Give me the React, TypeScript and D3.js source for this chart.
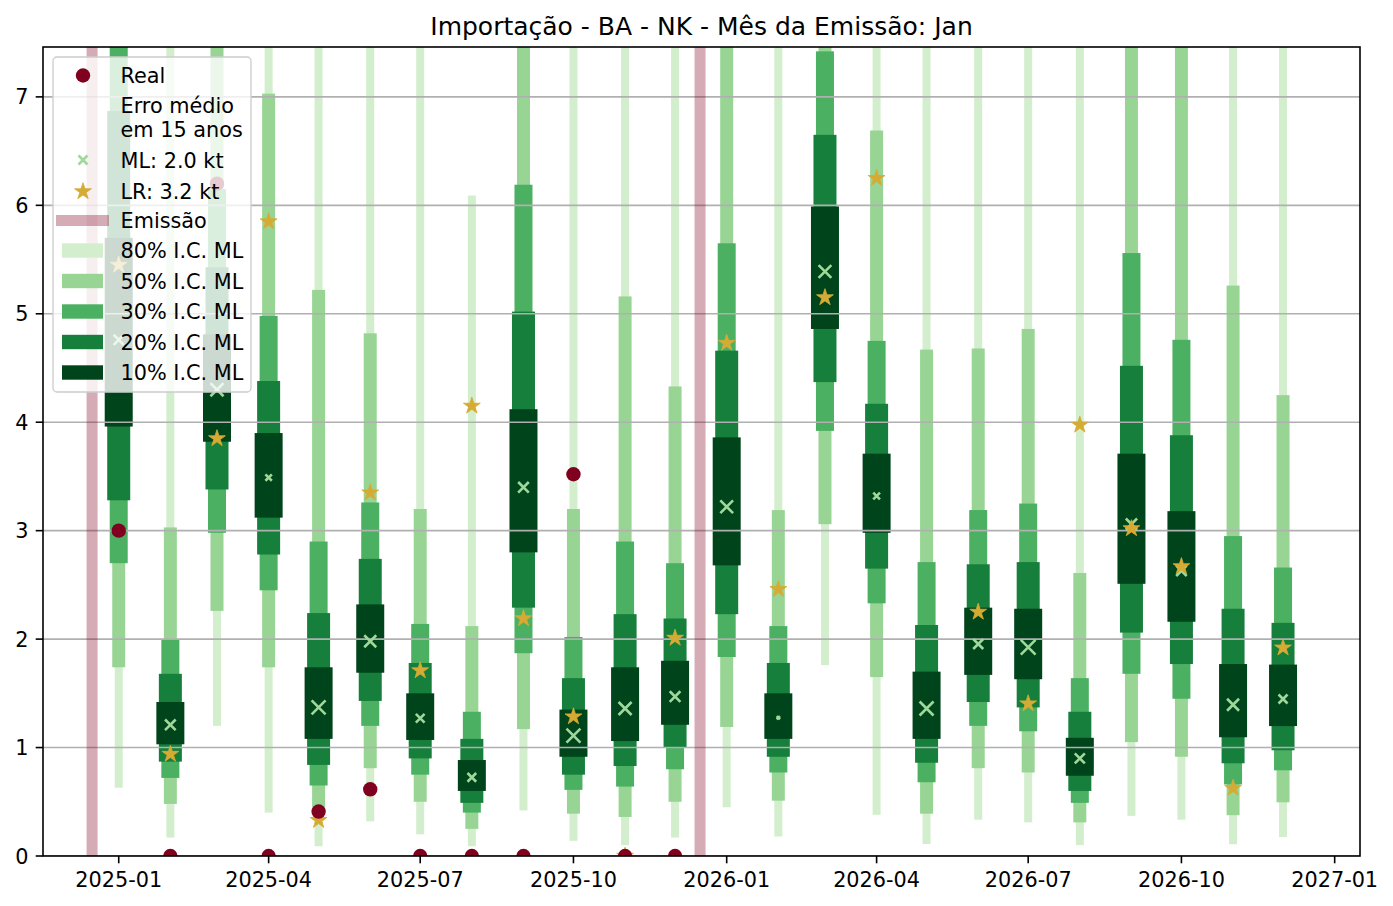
import React from "react";
import * as d3 from "d3";

// ---------- data ----------
const months = [
  "2025-01", "2025-02", "2025-03", "2025-04", "2025-05", "2025-06",
  "2025-07", "2025-08", "2025-09", "2025-10", "2025-11", "2025-12",
  "2026-01", "2026-02", "2026-03", "2026-04", "2026-05", "2026-06",
  "2026-07", "2026-08", "2026-09", "2026-10", "2026-11", "2026-12",
];

const ci80Low = [0.63, 0.17, 1.2, 0.4, 0.09, 0.32, 0.2, 0.09, 0.42, 0.14, 0.1, 0.17,
  0.45, 0.18, 1.76, 0.38, 0.11, 0.335, 0.31, 0.1, 0.37, 0.335, 0.108, 0.175];
const ci80High = [9.8, 8.0, 10.0, 9.0, 8.5, 8.5, 7.9, 6.09, 11.0, 8.0, 8.6, 7.8,
  11.0, 8.0, 13.0, 10.0, 8.5, 8.5, 8.6, 7.8, 11.0, 10.0, 8.5, 7.6];
const ci50Low = [1.74, 0.48, 2.26, 1.74, 0.42, 0.81, 0.5, 0.25, 1.17, 0.39, 0.36, 0.5,
  1.19, 0.51, 3.06, 1.65, 0.39, 0.81, 0.77, 0.31, 1.05, 0.915, 0.376, 0.495];
const ci50High = [9.0, 3.03, 8.5, 7.03, 5.22, 4.82, 3.2, 2.12, 9.0, 3.2, 5.16, 4.33,
  9.0, 3.19, 10.0, 6.69, 4.67, 4.68, 4.86, 2.61, 9.0, 8.0, 5.26, 4.25];
const ci30Low = [2.7, 0.72, 2.98, 2.45, 0.65, 1.2, 0.75, 0.4, 1.87, 0.61, 0.64, 0.8,
  1.835, 0.77, 3.92, 2.33, 0.68, 1.2, 1.15, 0.49, 1.68, 1.45, 0.66, 0.79];
const ci30High = [8.0, 2.0, 6.15, 4.98, 2.9, 3.26, 2.14, 1.33, 6.19, 2.02, 2.9, 2.7,
  5.65, 2.12, 7.42, 4.75, 2.71, 3.19, 3.25, 1.64, 5.56, 4.76, 2.95, 2.66];
const ci20Low = [3.28, 0.87, 3.38, 2.78, 0.84, 1.43, 0.9, 0.49, 2.29, 0.75, 0.83, 1.0,
  2.23, 0.915, 4.37, 2.65, 0.86, 1.42, 1.37, 0.6, 2.06, 1.77, 0.855, 0.975];
const ci20High = [6.87, 1.68, 5.43, 4.38, 2.24, 2.74, 1.78, 1.08, 5.02, 1.64, 2.23, 2.19,
  4.66, 1.78, 6.65, 4.17, 2.13, 2.69, 2.71, 1.33, 4.52, 3.88, 2.28, 2.15];
const ci10Low = [3.96, 1.03, 3.82, 3.12, 1.08, 1.69, 1.07, 0.6, 2.8, 0.915, 1.06, 1.21,
  2.68, 1.08, 4.86, 2.98, 1.08, 1.67, 1.63, 0.74, 2.51, 2.16, 1.095, 1.198];
const ci10High = [5.7, 1.42, 4.81, 3.9, 1.74, 2.32, 1.5, 0.885, 4.12, 1.35, 1.74, 1.8,
  3.86, 1.5, 5.99, 3.71, 1.7, 2.29, 2.28, 1.09, 3.71, 3.18, 1.77, 1.765];

const mlValues = [4.76, 1.21, 4.3, 3.49, 1.37, 1.98, 1.27, 0.725, 3.4, 1.11, 1.36, 1.47,
  3.22, 1.275, 5.39, 3.32, 1.36, 1.955, 1.925, 0.9, 3.06, 2.63, 1.395, 1.448];
// relative weight shown by the size of each ML marker
const mlWeight = [0.67, 0.71, 0.87, 0.43, 0.93, 0.8, 0.58, 0.58, 0.71, 0.93, 0.87, 0.71,
  0.85, 0.22, 0.85, 0.45, 0.93, 0.67, 0.98, 0.67, 0.75, 0.7, 0.8, 0.6];
const lrValues: (number | null)[] = [5.45, 0.94, 3.85, 5.85, 0.33, 3.35, 1.71, 4.15, 2.19, 1.285, 0.0, 2.01,
  4.73, 2.46, 5.15, 6.25, null, 2.25, 1.405, 3.975, 3.02, 2.67, 0.626, 1.92];

const realMonths = months.slice(0, 12);
const realValues = [3.0, 0, 6.2, 0, 0.41, 0.615, 0, 0, 0, 3.52, 0, 0];

const emissionDates = ["2024-12-16", "2025-12-16"];

const xTickDates = ["2025-01", "2025-04", "2025-07", "2025-10", "2026-01", "2026-04", "2026-07", "2026-10", "2027-01"];
const yTicks = [0, 1, 2, 3, 4, 5, 6, 7];

const title = "Importação - BA - NK - Mês da Emissão: Jan";
const legendLabels = {
  real: "Real",
  err1: "Erro médio",
  err2: "em 15 anos",
  ml: "ML: 2.0 kt",
  lr: "LR: 3.2 kt",
  em: "Emissão",
};

// ---------- styles ----------
const W = 1393;
const H = 906;
const L = 43, R = 1360, T = 47, B = 856;
const FONT = "DejaVu Sans, Verdana, sans-serif";
const FS = 20.8;
const REAL_COLOR = "#800020";
const STAR_COLOR = "#d6ab34";
const ML_COLOR = "#9fd89a";

const levels = [
  { label: "80% I.C. ML", lo: ci80Low, hi: ci80High, color: "#d3eecd", width: 8 },
  { label: "50% I.C. ML", lo: ci50Low, hi: ci50High, color: "#98d594", width: 13 },
  { label: "30% I.C. ML", lo: ci30Low, hi: ci30High, color: "#4bb062", width: 18 },
  { label: "20% I.C. ML", lo: ci20Low, hi: ci20High, color: "#157f3b", width: 23 },
  { label: "10% I.C. ML", lo: ci10Low, hi: ci10High, color: "#00441b", width: 28 },
];

const parseDate = (s: string) => {
  const [yy, mm, dd] = s.split("-").map(Number);
  return new Date(Date.UTC(yy, mm - 1, dd || 1));
};

const x = d3.scaleUtc()
  .domain([new Date(Date.UTC(2024, 10, 16, 13)), new Date(Date.UTC(2027, 0, 16, 5))])
  .range([L, R]);
const y = d3.scaleLinear().domain([0, 7.46]).range([B, T]);
const mlSize = d3.scaleLinear().domain([0, 1]).range([0, 15]);
const starPath = d3.symbol().type(d3.symbolStar).size(88)() as string;

const xMarker = (s: number) => {
  const h = s / 2;
  return `M${-h},${-h}L${h},${h}M${-h},${h}L${h},${-h}`;
};

export default function App() {
  const legendRows = levels.map((lv, i) => ({ ...lv, cy: 250.5 + i * 30.5 }));
  return (
    <div style={{ position: "absolute", left: 0, top: 0 }}>
      <svg width={W} height={H} style={{ display: "block", background: "#fff" }} fontFamily={FONT}>
        <defs>
          <clipPath id="plot">
            <rect x={L} y={T} width={R - L} height={B - T} />
          </clipPath>
        </defs>
        <rect x={0} y={0} width={W} height={H} fill="#fff" />
        <g clipPath="url(#plot)">
          {levels.map((lv) => (
            <g key={lv.label}>
              {months.map((m, i) => {
                const cx = x(parseDate(m));
                const top = y(lv.hi[i]);
                const bot = y(lv.lo[i]);
                return (
                  <rect key={m} x={cx - lv.width / 2} y={top} width={lv.width} height={bot - top} fill={lv.color} />
                );
              })}
            </g>
          ))}
          {yTicks.map((t) => (
            <line key={t} x1={L} x2={R} y1={y(t)} y2={y(t)} stroke="#b0b0b0" strokeWidth={1.6} />
          ))}
          {emissionDates.map((d) => (
            <line key={d} x1={x(parseDate(d))} x2={x(parseDate(d))} y1={T} y2={B}
              stroke={REAL_COLOR} strokeOpacity={0.33} strokeWidth={11} />
          ))}
          {months.map((m, i) => (
            <path key={m} d={xMarker(mlSize(mlWeight[i]))}
              transform={`translate(${x(parseDate(m))},${y(mlValues[i])})`}
              stroke={ML_COLOR} strokeWidth={2.6} fill="none" />
          ))}
          {months.map((m, i) => lrValues[i] == null ? null : (
            <path key={m} d={starPath}
              transform={`translate(${x(parseDate(m))},${y(lrValues[i] as number)})`}
              fill={STAR_COLOR} stroke={STAR_COLOR} strokeWidth={0.8} />
          ))}
          {realMonths.map((m, i) => (
            <circle key={m} cx={x(parseDate(m))} cy={y(realValues[i])} r={7.2} fill={REAL_COLOR} />
          ))}
        </g>

        {/* axes frame */}
        <rect x={L} y={T} width={R - L} height={B - T} fill="none" stroke="#000" strokeWidth={1.6} />

        {/* y axis */}
        {yTicks.map((t) => (
          <g key={t}>
            <line x1={L - 7.3} x2={L} y1={y(t)} y2={y(t)} stroke="#000" strokeWidth={1.6} />
            <text x={L - 14.5} y={y(t) + 7.6} fontSize={FS} textAnchor="end" fill="#000">{t}</text>
          </g>
        ))}

        {/* x axis */}
        {xTickDates.map((d) => {
          const px = x(parseDate(d));
          return (
            <g key={d}>
              <line x1={px} x2={px} y1={B} y2={B + 7.3} stroke="#000" strokeWidth={1.6} />
              <text x={px} y={887} fontSize={FS} textAnchor="middle" fill="#000">{d}</text>
            </g>
          );
        })}

        {/* title */}
        <text x={(L + R) / 2} y={35.4} fontSize={25} textAnchor="middle" fill="#000">{title}</text>

        {/* legend */}
        <g>
          <rect x={53} y={57} width={198} height={335} rx={4} fill="#fff" fillOpacity={0.8}
            stroke="#cccccc" strokeWidth={1.3} />
          <circle cx={83} cy={75.5} r={7.2} fill={REAL_COLOR} />
          <text x={120.5} y={83.3} fontSize={FS}>{legendLabels.real}</text>
          <text x={120.5} y={113} fontSize={FS}>{legendLabels.err1}</text>
          <text x={120.5} y={136.5} fontSize={FS}>{legendLabels.err2}</text>
          <path d={xMarker(9)} transform="translate(83,160)" stroke={ML_COLOR} strokeWidth={2.6} fill="none" />
          <text x={120.5} y={167.8} fontSize={FS}>{legendLabels.ml}</text>
          <path d={starPath} transform="translate(83,191.5)" fill={STAR_COLOR} stroke={STAR_COLOR} strokeWidth={0.8} />
          <text x={120.5} y={198.5} fontSize={FS}>{legendLabels.lr}</text>
          <line x1={56} x2={109} y1={220.5} y2={220.5} stroke={REAL_COLOR} strokeOpacity={0.33} strokeWidth={11} />
          <text x={120.5} y={228.3} fontSize={FS}>{legendLabels.em}</text>
          {legendRows.map((r) => (
            <g key={r.label}>
              <rect x={62} y={r.cy - 7.2} width={41} height={14.4} fill={r.color} />
              <text x={120.5} y={r.cy + 7.9} fontSize={FS}>{r.label}</text>
            </g>
          ))}
        </g>
      </svg>
    </div>
  );
}
